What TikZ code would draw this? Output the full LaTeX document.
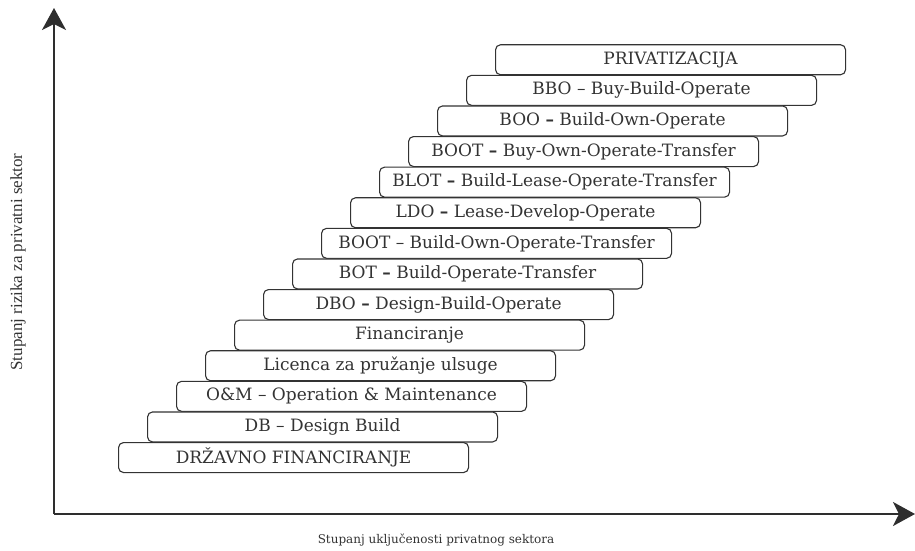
\documentclass[tikz,border=0pt]{standalone}
\usepackage{fontspec}
\setmainfont{DejaVu Serif}
\newfontfamily\timesf{Liberation Serif}
\usetikzlibrary{arrows.meta}
\definecolor{ink}{HTML}{333333}
\tikzset{
  stepbox/.style={draw=ink, line width=1.1pt, rounded corners=5pt, fill=white,
    minimum width=350pt, minimum height=30pt, inner sep=0pt, anchor=north west,
    font=\fontsize{17}{19}\selectfont, text=ink},
  axis/.style={draw=ink!90!black, line width=2pt, -{Stealth[length=22pt,width=24pt,inset=6pt]}},
}
\begin{document}
\begin{tikzpicture}[x=1pt,y=-1pt]
\useasboundingbox (0,0) rectangle (915,551);
\coordinate (o) at (54,514);
\coordinate (ytip) at (54,8);
\coordinate (xtip) at (915,514);
\draw[axis] (o) -- (ytip);
\draw[axis] (o) -- (xtip);
\node[rotate=90, font=\timesf\fontsize{17}{19}\selectfont, text=ink] (ylab) at (18,262) {Stupanj rizika za privatni sektor};
\node[font=\fontsize{12}{14}\selectfont, text=ink] (xlab) at (436,540) {Stupanj uključenosti privatnog sektora};
\foreach \i/\t in {13/{PRIVATIZACIJA},12/{BBO -- Buy-Build-Operate},11/{BOO \textbf{--} Build-Own-Operate},10/{BOOT \textbf{--} Buy-Own-Operate-Transfer},9/{BLOT \textbf{--} Build-Lease-Operate-Transfer},8/{LDO \textbf{--} Lease-Develop-Operate},7/{BOOT -- Build-Own-Operate-Transfer},6/{BOT \textbf{--} Build-Operate-Transfer},5/{DBO \textbf{--} Design-Build-Operate},4/{Financiranje},3/{Licenca za pružanje ulsuge},2/{O\&M -- Operation \& Maintenance},1/{DB -- Design Build},0/{DRŽAVNO FINANCIRANJE}}{
  \node[stepbox] (b\i) at ({118+29*\i},{442-30.6*\i}) {\t};
}
\end{tikzpicture}
\end{document}
